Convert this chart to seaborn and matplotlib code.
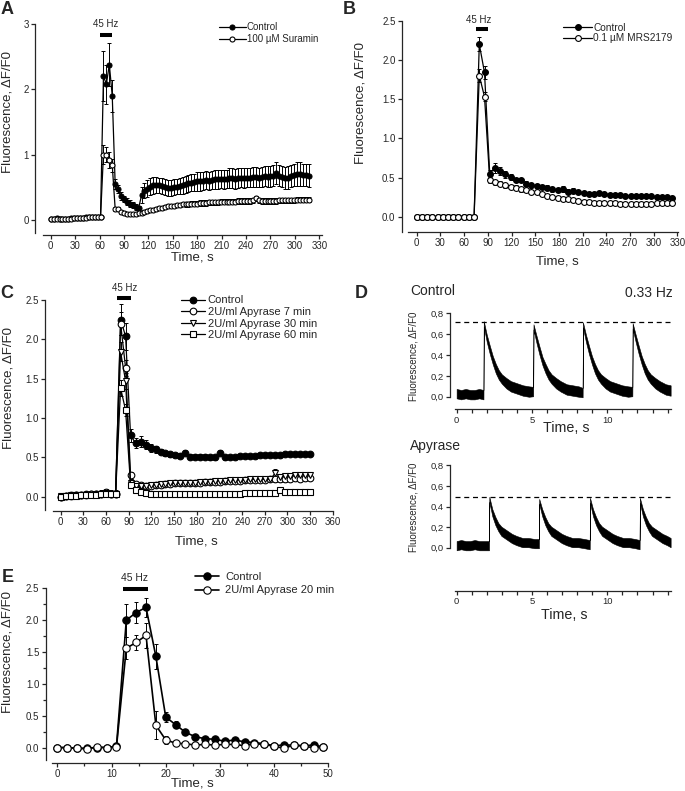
import matplotlib
matplotlib.use("Agg")
import matplotlib.pyplot as plt
import numpy as np
import seaborn as sns
from matplotlib.ticker import MultipleLocator, FuncFormatter

W, H = 685, 791

# ---------------- A: 45 Hz, control vs 100 uM suramin (one sample / 3.6 s)
a_step = 3.6
a_ctrl = [0.01, 0.02, 0.03, 0.02, 0.02, 0.02, 0.02, 0.03, 0.03, 0.03,
          0.03, 0.03, 0.04, 0.04, 0.04, 0.05, 0.04, 0.05,
          2.20, 2.08, 2.38, 1.90,
          0.55, 0.47, 0.37, 0.32, 0.28, 0.25, 0.23, 0.20, 0.18,
          0.38, 0.45, 0.48, 0.51, 0.53, 0.54, 0.53, 0.52, 0.50, 0.49,
          0.49, 0.50, 0.51, 0.52, 0.53, 0.55, 0.56, 0.57, 0.58, 0.59,
          0.59, 0.60, 0.61, 0.60, 0.61, 0.62, 0.62, 0.63, 0.62, 0.63,
          0.64, 0.64, 0.63, 0.64, 0.65, 0.64, 0.65, 0.65, 0.66, 0.66,
          0.65, 0.66, 0.67, 0.66, 0.67, 0.68, 0.72, 0.68, 0.66, 0.64,
          0.65, 0.67, 0.69, 0.70, 0.70, 0.69, 0.69, 0.68]
a_ctrl_err = [0.01, 0.01, 0.01, 0.01, 0.01, 0.01, 0.01, 0.01, 0.01, 0.01,
              0.01, 0.01, 0.01, 0.01, 0.01, 0.01, 0.01, 0.01,
              0.38, 0.30, 0.33, 0.25,
              0.07, 0.06, 0.06, 0.05, 0.05, 0.05, 0.04, 0.04, 0.04,
              0.12, 0.12, 0.13, 0.13, 0.13, 0.12, 0.12, 0.12, 0.12, 0.12,
              0.12, 0.12, 0.12, 0.13, 0.13, 0.13, 0.13, 0.13, 0.13, 0.14,
              0.14, 0.14, 0.14, 0.14, 0.14, 0.14, 0.14, 0.14, 0.14, 0.14,
              0.15, 0.15, 0.15, 0.15, 0.15, 0.15, 0.15, 0.15, 0.15, 0.15,
              0.15, 0.15, 0.15, 0.16, 0.16, 0.16, 0.17, 0.16, 0.16, 0.17,
              0.17, 0.17, 0.17, 0.18, 0.18, 0.17, 0.17, 0.17]
a_sur = [0.01, 0.02, 0.02, 0.02, 0.02, 0.02, 0.02, 0.02, 0.03, 0.03,
         0.03, 0.03, 0.03, 0.04, 0.04, 0.04, 0.04, 0.04,
         1.00, 1.00, 0.92, 0.84,
         0.17, 0.17, 0.12, 0.10, 0.09, 0.09, 0.09, 0.09, 0.10,
         0.11, 0.12, 0.14, 0.15, 0.16, 0.17, 0.18, 0.19, 0.20, 0.21,
         0.22, 0.22, 0.23, 0.23, 0.24, 0.24, 0.24, 0.25, 0.25, 0.25,
         0.26, 0.26, 0.26, 0.27, 0.27, 0.27, 0.27, 0.28, 0.28, 0.28,
         0.28, 0.28, 0.28, 0.29, 0.29, 0.29, 0.29, 0.29, 0.30, 0.33,
         0.30, 0.29, 0.29, 0.29, 0.29, 0.29, 0.29, 0.30, 0.30, 0.30,
         0.30, 0.30, 0.30, 0.31, 0.31, 0.31, 0.31, 0.31]
a_sur_err = [0.01, 0.01, 0.01, 0.01, 0.01, 0.01, 0.01, 0.01, 0.01, 0.01,
             0.01, 0.01, 0.01, 0.01, 0.01, 0.01, 0.01, 0.01,
             0.15, 0.12, 0.12, 0.10,
             0.03, 0.03, 0.03, 0.03, 0.03, 0.03, 0.03, 0.03, 0.03,
             0.03, 0.03, 0.03, 0.03, 0.03, 0.03, 0.03, 0.03, 0.03, 0.03,
             0.03, 0.03, 0.03, 0.03, 0.03, 0.04, 0.04, 0.04, 0.04, 0.04,
             0.04, 0.04, 0.04, 0.04, 0.04, 0.04, 0.04, 0.04, 0.04, 0.04,
             0.04, 0.04, 0.04, 0.04, 0.04, 0.04, 0.04, 0.04, 0.04, 0.04,
             0.04, 0.04, 0.04, 0.04, 0.04, 0.04, 0.04, 0.04, 0.04, 0.04,
             0.04, 0.04, 0.04, 0.04, 0.04, 0.04, 0.04, 0.04]

# ---------------- B: control vs 0.1 uM MRS2179 (one sample / 6.6 s)
b_step = 6.6
b_ctrl = [0.00, 0.00, 0.00, 0.00, 0.00, 0.00, 0.00, 0.00, 0.00, 0.00, 0.00, 0.00,
          2.20, 1.84, 0.55, 0.62, 0.58, 0.54, 0.51, 0.47, 0.47, 0.42,
          0.40, 0.39, 0.38, 0.37, 0.35, 0.34, 0.35, 0.32, 0.33, 0.31,
          0.30, 0.29, 0.29, 0.30, 0.29, 0.28, 0.28, 0.28, 0.27, 0.27,
          0.26, 0.26, 0.26, 0.26, 0.25, 0.25, 0.25, 0.24]
b_ctrl_err = [0.01, 0.01, 0.01, 0.01, 0.01, 0.01, 0.01, 0.01, 0.01, 0.01, 0.01, 0.01,
              0.09, 0.08, 0.05, 0.06, 0.05, 0.04, 0.04, 0.03, 0.03, 0.03,
              0.03, 0.03, 0.03, 0.03, 0.03, 0.03, 0.04, 0.03, 0.03, 0.02,
              0.02, 0.02, 0.02, 0.02, 0.02, 0.02, 0.02, 0.02, 0.02, 0.02,
              0.02, 0.02, 0.02, 0.02, 0.02, 0.02, 0.02, 0.02]
b_mrs = [0.00, 0.00, 0.00, 0.00, 0.00, 0.00, 0.00, 0.00, 0.00, 0.00, 0.00, 0.00,
         1.80, 1.53, 0.47, 0.44, 0.42, 0.40, 0.38, 0.37, 0.35, 0.34,
         0.32, 0.31, 0.29, 0.27, 0.25, 0.24, 0.23, 0.22, 0.21, 0.20,
         0.19, 0.19, 0.18, 0.17, 0.17, 0.17, 0.17, 0.16, 0.16, 0.16,
         0.16, 0.16, 0.16, 0.16, 0.17, 0.17, 0.17, 0.17]
b_mrs_err = [0.01, 0.01, 0.01, 0.01, 0.01, 0.01, 0.01, 0.01, 0.01, 0.01, 0.01, 0.01,
             0.08, 0.06, 0.04, 0.03, 0.03, 0.03, 0.03, 0.03, 0.03, 0.02,
             0.02, 0.02, 0.02, 0.02, 0.02, 0.02, 0.02, 0.02, 0.02, 0.02,
             0.02, 0.02, 0.02, 0.02, 0.02, 0.02, 0.02, 0.02, 0.02, 0.02,
             0.02, 0.02, 0.02, 0.02, 0.02, 0.02, 0.02, 0.02]

# ---------------- C: control vs apyrase 7 / 30 / 60 min (one sample / 6.6 s)
c_step = 6.6
c_ctrl = [0.00, 0.01, 0.02, 0.02, 0.02, 0.03, 0.03, 0.03, 0.04, 0.05, 0.04, 0.04,
          2.25, 2.04, 0.78, 0.68, 0.70, 0.66, 0.62, 0.60, 0.57, 0.55,
          0.54, 0.53, 0.52, 0.56, 0.51, 0.51, 0.51, 0.51, 0.50, 0.50,
          0.56, 0.50, 0.51, 0.51, 0.52, 0.52, 0.52, 0.52, 0.53, 0.53,
          0.53, 0.53, 0.53, 0.54, 0.54, 0.54, 0.54, 0.54, 0.54]
c_ctrl_err = [0.02, 0.02, 0.02, 0.02, 0.03, 0.03, 0.03, 0.03, 0.04, 0.05, 0.04, 0.04,
              0.20, 0.17, 0.08, 0.06, 0.07, 0.06, 0.05, 0.04, 0.03, 0.03,
              0.03, 0.03, 0.03, 0.03, 0.03, 0.03, 0.03, 0.03, 0.03, 0.03,
              0.03, 0.03, 0.02, 0.02, 0.02, 0.02, 0.02, 0.02, 0.02, 0.02,
              0.02, 0.02, 0.02, 0.02, 0.02, 0.02, 0.02, 0.02, 0.02]
c_apy7 = [0.00, 0.01, 0.01, 0.02, 0.02, 0.02, 0.03, 0.03, 0.03, 0.06, 0.04, 0.04,
          2.20, 1.64, 0.27, 0.16, 0.15, 0.14, 0.14, 0.15, 0.15, 0.16,
          0.16, 0.17, 0.17, 0.18, 0.18, 0.18, 0.18, 0.19, 0.19, 0.19,
          0.19, 0.20, 0.20, 0.20, 0.20, 0.21, 0.21, 0.21, 0.21, 0.21,
          0.22, 0.22, 0.22, 0.22, 0.23, 0.24, 0.23, 0.24, 0.24]
c_apy7_err = [0.02, 0.02, 0.02, 0.02, 0.02, 0.02, 0.02, 0.02, 0.02, 0.04, 0.02, 0.02,
              0.15, 0.10, 0.05, 0.03, 0.03, 0.03, 0.03, 0.03, 0.03, 0.03,
              0.03, 0.02, 0.02, 0.02, 0.02, 0.02, 0.02, 0.02, 0.02, 0.02,
              0.02, 0.02, 0.02, 0.02, 0.02, 0.02, 0.02, 0.02, 0.02, 0.02,
              0.02, 0.03, 0.03, 0.03, 0.03, 0.03, 0.03, 0.03, 0.03]
c_apy30 = [0.01, 0.01, 0.02, 0.02, 0.02, 0.02, 0.02, 0.03, 0.03, 0.05, 0.04, 0.03,
           1.84, 1.47, 0.17, 0.14, 0.13, 0.14, 0.15, 0.15, 0.16, 0.16,
           0.17, 0.17, 0.17, 0.18, 0.18, 0.18, 0.19, 0.19, 0.19, 0.20,
           0.20, 0.20, 0.21, 0.21, 0.21, 0.21, 0.22, 0.22, 0.22, 0.22,
           0.22, 0.30, 0.25, 0.26, 0.26, 0.27, 0.27, 0.28, 0.28]
c_apy30_err = [0.02, 0.02, 0.02, 0.02, 0.02, 0.02, 0.02, 0.02, 0.02, 0.03, 0.02, 0.02,
               0.12, 0.10, 0.03, 0.02, 0.02, 0.02, 0.02, 0.02, 0.02, 0.02,
               0.02, 0.02, 0.02, 0.02, 0.02, 0.02, 0.02, 0.02, 0.02, 0.02,
               0.02, 0.02, 0.02, 0.02, 0.02, 0.02, 0.02, 0.02, 0.02, 0.02,
               0.02, 0.05, 0.03, 0.03, 0.03, 0.03, 0.03, 0.03, 0.03]
c_apy60 = [0.00, 0.01, 0.01, 0.01, 0.02, 0.02, 0.02, 0.02, 0.03, 0.03, 0.03, 0.03,
           1.38, 1.10, 0.15, 0.08, 0.06, 0.05, 0.04, 0.03, 0.03, 0.03,
           0.03, 0.03, 0.03, 0.03, 0.03, 0.03, 0.03, 0.03, 0.04, 0.04,
           0.04, 0.04, 0.04, 0.04, 0.04, 0.05, 0.05, 0.05, 0.05, 0.05,
           0.05, 0.05, 0.08, 0.06, 0.06, 0.06, 0.06, 0.06, 0.06]
c_apy60_err = [0.02, 0.02, 0.02, 0.02, 0.02, 0.02, 0.02, 0.02, 0.02, 0.02, 0.02, 0.02,
               0.10, 0.08, 0.03, 0.02, 0.02, 0.02, 0.02, 0.02, 0.02, 0.02,
               0.02, 0.02, 0.02, 0.02, 0.02, 0.02, 0.02, 0.02, 0.02, 0.02,
               0.02, 0.02, 0.02, 0.02, 0.02, 0.02, 0.02, 0.02, 0.02, 0.02,
               0.02, 0.02, 0.02, 0.02, 0.02, 0.02, 0.02, 0.02, 0.02]

# ---------------- D: 0.33 Hz single responses (noise band: centre +/- half width)
d_ctrl_t = [0.0, 0.3, 0.6, 0.9, 1.2, 1.5, 1.78,
            1.80, 2.0, 2.2, 2.4, 2.6, 2.8, 3.0, 3.3, 3.6, 4.0, 4.4, 4.8, 5.08,
            5.10, 5.3, 5.5, 5.7, 5.9, 6.1, 6.3, 6.6, 6.9, 7.3, 7.7, 8.1, 8.36,
            8.38, 8.58, 8.78, 8.98, 9.18, 9.38, 9.58, 9.88, 10.18, 10.58, 10.98, 11.38, 11.66,
            11.68, 11.88, 12.08, 12.28, 12.48, 12.68, 12.88, 13.18, 13.48, 13.88, 14.2]
d_ctrl_mid = [0.03, 0.02, 0.03, 0.02, 0.02, 0.03, 0.02,
              0.70, 0.56, 0.45, 0.35, 0.27, 0.21, 0.17, 0.13, 0.10, 0.08, 0.06, 0.05, 0.05,
              0.67, 0.55, 0.44, 0.34, 0.27, 0.21, 0.17, 0.13, 0.10, 0.07, 0.06, 0.05, 0.04,
              0.69, 0.56, 0.45, 0.35, 0.27, 0.21, 0.17, 0.13, 0.10, 0.08, 0.06, 0.05, 0.05,
              0.68, 0.56, 0.45, 0.35, 0.27, 0.21, 0.17, 0.13, 0.10, 0.07, 0.06]
d_ctrl_half = [0.045, 0.045, 0.045, 0.045, 0.045, 0.045, 0.045,
               0.025, 0.035, 0.04, 0.04, 0.045, 0.045, 0.045, 0.05, 0.05, 0.05, 0.05, 0.05, 0.045,
               0.025, 0.035, 0.04, 0.04, 0.045, 0.045, 0.045, 0.05, 0.05, 0.05, 0.05, 0.05, 0.045,
               0.025, 0.035, 0.04, 0.04, 0.045, 0.045, 0.045, 0.05, 0.05, 0.05, 0.05, 0.05, 0.045,
               0.025, 0.035, 0.04, 0.04, 0.045, 0.045, 0.045, 0.05, 0.05, 0.05, 0.05]
d_apy_t = [0.0, 0.3, 0.6, 0.9, 1.2, 1.5, 1.8, 2.15,
           2.17, 2.37, 2.57, 2.77, 2.97, 3.17, 3.37, 3.67, 3.97, 4.37, 4.77, 5.17, 5.46,
           5.48, 5.68, 5.88, 6.08, 6.28, 6.48, 6.68, 6.98, 7.28, 7.68, 8.08, 8.48, 8.83,
           8.85, 9.05, 9.25, 9.45, 9.65, 9.85, 10.05, 10.35, 10.65, 11.05, 11.45, 11.85, 12.14,
           12.16, 12.36, 12.56, 12.76, 12.96, 13.16, 13.36, 13.66, 13.96, 14.2]
d_apy_mid = [0.02, 0.03, 0.02, 0.02, 0.03, 0.02, 0.02, 0.02,
             0.47, 0.34, 0.26, 0.20, 0.16, 0.14, 0.12, 0.09, 0.07, 0.05, 0.05, 0.04, 0.04,
             0.45, 0.34, 0.26, 0.20, 0.16, 0.14, 0.12, 0.09, 0.07, 0.05, 0.05, 0.04, 0.03,
             0.46, 0.34, 0.26, 0.20, 0.16, 0.14, 0.12, 0.09, 0.07, 0.05, 0.05, 0.04, 0.03,
             0.46, 0.34, 0.26, 0.20, 0.16, 0.14, 0.12, 0.09, 0.07, 0.05]
d_apy_half = [0.045, 0.045, 0.045, 0.045, 0.045, 0.045, 0.045, 0.045,
              0.025, 0.035, 0.04, 0.04, 0.045, 0.045, 0.045, 0.045, 0.045, 0.045, 0.045, 0.045, 0.045,
              0.025, 0.035, 0.04, 0.04, 0.045, 0.045, 0.045, 0.045, 0.045, 0.045, 0.045, 0.045, 0.045,
              0.025, 0.035, 0.04, 0.04, 0.045, 0.045, 0.045, 0.045, 0.045, 0.045, 0.045, 0.045, 0.045,
              0.025, 0.035, 0.04, 0.04, 0.045, 0.045, 0.045, 0.045, 0.045, 0.045]
d_ctrl_peak = 0.72
d_apy_peak = 0.49

# ---------------- E: control vs apyrase 20 min (one sample / 1.82 s)
e_step = 20 / 11
e_ctrl = [0.00, 0.00, -0.01, -0.01, 0.00, 0.00, 0.02, 2.00, 2.12, 2.20,
          1.43, 0.48, 0.36, 0.24, 0.17, 0.14, 0.13, 0.10, 0.12, 0.09,
          0.08, 0.06, 0.03, 0.04, 0.04, 0.03, 0.04, 0.01]
e_ctrl_err = [0.02, 0.02, 0.03, 0.03, 0.03, 0.03, 0.02, 0.26, 0.16, 0.15,
              0.20, 0.08, 0.06, 0.04, 0.03, 0.03, 0.03, 0.03, 0.03, 0.03,
              0.02, 0.02, 0.02, 0.02, 0.02, 0.02, 0.02, 0.02]
e_apy = [0.00, 0.00, -0.01, -0.02, 0.01, 0.00, 0.01, 1.56, 1.65, 1.76,
         0.35, 0.12, 0.07, 0.06, 0.04, 0.05, 0.04, 0.05, 0.05, 0.03,
         0.06, 0.05, 0.02, -0.01, 0.04, 0.02, 0.00, 0.01]
e_apy_err = [0.02, 0.02, 0.02, 0.02, 0.02, 0.02, 0.02, 0.17, 0.12, 0.20,
             0.22, 0.06, 0.03, 0.02, 0.02, 0.02, 0.02, 0.02, 0.02, 0.02,
             0.02, 0.02, 0.02, 0.02, 0.02, 0.02, 0.02, 0.02]

YLAB = "Fluorescence, \u0394F/F0"

sns.set_style("ticks")
plt.rcParams["font.family"] = ["Liberation Sans", "DejaVu Sans"]
plt.rcParams["axes.linewidth"] = 0.9

fig = plt.figure(figsize=(W / 100, H / 100), dpi=100)


def make_ax(l, t, r, b):
    return fig.add_axes([l / W, 1 - b / H, (r - l) / W, (b - t) / H])


def frame(ax, xlim, ylim, xspan, yspan, xticks, yticks, fs=7):
    ax.set_xlim(*xlim)
    ax.set_ylim(*ylim)
    sns.despine(ax=ax)
    ax.spines["bottom"].set_bounds(*xspan)
    ax.spines["left"].set_bounds(*yspan)
    ax.set_xticks(xticks)
    ax.set_yticks(yticks)
    ax.tick_params(length=3, width=0.9, labelsize=fs, pad=1.5)
    ax.set_facecolor("none")


def labels(ax, xl, yl, fs=9.5):
    ax.set_xlabel("Time, s", fontsize=fs, va="center")
    ax.xaxis.set_label_coords(xl[0] / W, 1 - xl[1] / H, transform=fig.transFigure)
    ax.set_ylabel(YLAB, fontsize=fs, va="center")
    ax.yaxis.set_label_coords(yl[0] / W, 1 - yl[1] / H, transform=fig.transFigure)


def series(ax, t, y, err, marker, filled, ms, label, lw=0.9):
    ax.errorbar(t, y, yerr=err, fmt="none", ecolor="black", elinewidth=0.7,
                capsize=1.5, capthick=0.7, zorder=1)
    sns.lineplot(x=t, y=y, ax=ax, color="black", lw=lw, marker=marker, markersize=ms,
                 markerfacecolor="black" if filled else "white", markeredgecolor="black",
                 markeredgewidth=0.8, label=label, errorbar=None, zorder=3)


def stim(ax, x0, x1, yb, xt, yt, fs=7):
    ax.plot([x0, x1], [yb, yb], color="black", lw=2.9, solid_capstyle="butt", clip_on=False)
    ax.text(xt, yt, "45 Hz", ha="center", va="center", fontsize=fs)


def legend(ax, x, y, fs, hl, tp, ls):
    h, l = ax.get_legend_handles_labels()
    ax.legend(h, l, loc="upper left", bbox_to_anchor=(x / W, 1 - y / H),
              bbox_transform=fig.transFigure, frameon=False, fontsize=fs,
              handlelength=hl, handletextpad=tp, labelspacing=ls,
              borderpad=0, borderaxespad=0)


def letter(s, x, y):
    fig.text(x / W, 1 - y / H, s, fontsize=13, fontweight="bold", va="baseline", ha="left")


# ---- A
ax = make_ax(35, 24, 322, 235)
ta = np.arange(len(a_ctrl)) * a_step
series(ax, ta, a_ctrl, a_ctrl_err, "o", True, 3.6, "Control")
series(ax, ta, a_sur, a_sur_err, "o", False, 3.6, "100 \u00b5M Suramin")
frame(ax, (-19.3, 333.3), (-0.23, 3.0), (-9.5, 333), (-0.2, 3), np.arange(0, 331, 30), [0, 1, 2, 3])
stim(ax, 60.6, 74.9, 2.83, 67.9, 3.0)
legend(ax, 218.5, 22.5, 7, 2.8, 0.1, 0.2)
labels(ax, (192, 258), (8, 112))
letter("A", 0.5, 14)

# ---- B
ax = make_ax(401.7, 20.7, 678, 232)
tb = np.arange(len(b_ctrl)) * b_step
series(ax, tb, b_ctrl, b_ctrl_err, "o", True, 4.2, "Control")
series(ax, tb, b_mrs, b_mrs_err, "o", False, 4.2, "0.1 \u00b5M MRS2179")
frame(ax, (-19.0, 330.7), (-0.195, 2.5), (-11, 330.7), (-0.19, 2.5), np.arange(0, 331, 30),
      np.arange(0, 2.51, 0.5))
ax.yaxis.set_major_formatter(FuncFormatter(lambda v, _: f"{v:.1f}"))
stim(ax, 74.5, 90.8, 2.40, 78.3, 2.515)
legend(ax, 563, 22.8, 7.3, 2.9, 0.1, 0.05)
labels(ax, (557.5, 261), (361, 103))
letter("B", 343, 13.5)

# ---- C
ax = make_ax(45, 300, 333, 511)
tc = np.arange(len(c_ctrl)) * c_step
series(ax, tc, c_ctrl, c_ctrl_err, "o", True, 4.8, "Control")
series(ax, tc, c_apy7, c_apy7_err, "o", False, 4.8, "2U/ml Apyrase 7 min")
series(ax, tc, c_apy30, c_apy30_err, "v", False, 4.8, "2U/ml Apyrase 30 min")
series(ax, tc, c_apy60, c_apy60_err, "s", False, 4.3, "2U/ml Apyrase 60 min")
frame(ax, (-20.8, 360.2), (-0.182, 2.5), (-10, 360), (-0.17, 2.5), np.arange(0, 361, 30),
      np.arange(0, 2.51, 0.5))
ax.yaxis.set_major_formatter(FuncFormatter(lambda v, _: f"{v:.1f}"))
stim(ax, 74.9, 92.6, 2.53, 84, 2.655)
legend(ax, 181, 295.5, 8, 2.2, 0.2, 0.14)
labels(ax, (196, 541), (9, 388))
letter("C", 0.5, 298)

# ---- D
comma = FuncFormatter(lambda v, _: f"{v:.1f}".replace(".", ","))
for (top, bot, ylo, t, mid, half, peak, xl, yl) in [
        (313.3, 409.3, -0.12, d_ctrl_t, d_ctrl_mid, d_ctrl_half, d_ctrl_peak, (566, 428), (413.5, 356)),
        (465.5, 590.7, -0.418, d_apy_t, d_apy_mid, d_apy_half, d_apy_peak, (564, 615), (413.5, 507))]:
    ax = make_ax(450, top, 672, bot)
    t = np.asarray(t)
    mid = np.asarray(mid)
    half = np.asarray(half)
    ax.fill_between(t, mid - half, mid + half, color="black", lw=0.4)
    ax.plot([-0.1, 14.25], [peak, peak], color="black", lw=0.9, ls=(0, (4, 3)))
    frame(ax, (-0.44, 14.29), (ylo, 0.8), (-0.1, 14.2), (0, 0.8), [0, 5, 10],
          np.arange(0, 0.81, 0.2), fs=6.8)
    ax.xaxis.set_minor_locator(MultipleLocator(1))
    ax.tick_params(which="minor", length=3, width=0.9)
    ax.yaxis.set_major_formatter(comma)
    ax.set_xlabel("Time, s", fontsize=10.3, va="center")
    ax.xaxis.set_label_coords(xl[0] / W, 1 - xl[1] / H, transform=fig.transFigure)
    ax.set_ylabel(YLAB, fontsize=7, va="center")
    ax.yaxis.set_label_coords(yl[0] / W, 1 - yl[1] / H, transform=fig.transFigure)

fig.text(410 / W, 1 - 295.5 / H, "Control", fontsize=10, va="baseline", ha="left")
fig.text(673 / W, 1 - 297 / H, "0.33 Hz", fontsize=10, va="baseline", ha="right")
fig.text(410 / W, 1 - 450 / H, "Apyrase", fontsize=10, va="baseline", ha="left")
letter("D", 355, 298)

# ---- E
ax = make_ax(45.5, 588.3, 330, 762.7)
te = np.arange(len(e_ctrl)) * e_step
series(ax, te, e_ctrl, e_ctrl_err, "o", True, 5.3, "Control", lw=1.2)
series(ax, te, e_apy, e_apy_err, "o", False, 5.3, "2U/ml Apyrase 20 min", lw=1.2)
frame(ax, (-2.18, 50.3), (-0.237, 2.5), (-0.9, 50), (-0.19, 2.5), np.arange(0, 51, 10),
      np.arange(0, 2.51, 0.5))
ax.yaxis.set_major_formatter(FuncFormatter(lambda v, _: f"{v:.1f}"))
ax.xaxis.set_minor_locator(MultipleLocator(5))
ax.yaxis.set_minor_locator(MultipleLocator(0.25))
ax.tick_params(which="minor", length=2, width=0.9)
stim(ax, 12.2, 16.7, 2.49, 14.3, 2.66, fs=7.5)
legend(ax, 194.5, 571.5, 8, 2.2, 0.55, 0.35)
labels(ax, (192, 783), (8, 652))
letter("E", 2, 582)

fig.savefig("out.png", dpi=100, facecolor="white")
